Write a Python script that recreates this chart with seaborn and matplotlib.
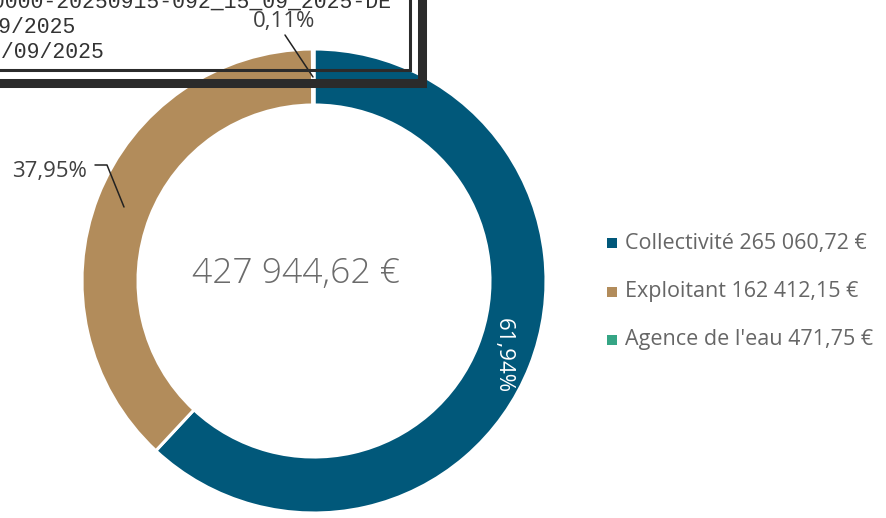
import matplotlib.pyplot as plt
import seaborn as sns

# --- DATA ---
categories = ["Collectivité", "Exploitant", "Agence de l'eau"]
amounts = [265060.72, 162412.15, 471.75]
colors = ["#01587A", "#B28C5B", "#35A585"]
stamp_lines = [
    "021-212100000-20250915-092_15_09_2025-DE",
    "Date de télétransmission : 15/09/2025",
    "Date de réception préfecture : 15/09/2025",
]

W, H = 887, 518


def fr(v, dec=2):
    # format "265 060,72"
    return f"{v:,.{dec}f}".replace(",", " ").replace(".", ",")


def py(y):
    # pixel row (from top) -> data y
    return H - y


sns.set_theme(style="white")
plt.rcParams['font.family'] = ['Open Sans', 'DejaVu Sans']

fig = plt.figure(figsize=(W / 100, H / 100), dpi=100)
ax = fig.add_axes([0, 0, 1, 1])

total = sum(amounts)
cx, cy, r = 314, 281, 232
wedges, _ = ax.pie(amounts, colors=colors, startangle=90, counterclock=False,
                   center=(cx, py(cy)), radius=r,
                   wedgeprops=dict(width=56, edgecolor='white', linewidth=2.2))
ax.set_xlim(0, W)
ax.set_ylim(0, H)
ax.set_aspect('equal')
ax.axis('off')

# centre total
ax.text(296, py(283), f"{fr(total)} €", ha='center', va='baseline',
        fontsize=25.5, color='#6b6b6b', fontweight='light')

# percentage labels
pct = [a / total * 100 for a in amounts]
ax.text(503, py(356), f"{fr(pct[0])}%", ha='center', va='center', rotation=270,
        fontsize=16, color='white')
ax.text(87, py(177), f"{fr(pct[1])}%", ha='right', va='baseline',
        fontsize=16, color='#404040')
ax.plot([95, 107, 124], [py(165), py(165), py(207)], color='#222222', lw=1.1)
ax.text(284, py(27), f"{fr(pct[2])}%", ha='center', va='baseline',
        fontsize=16, color='#404040')
ax.plot([285, 313], [py(35), py(77)], color='#222222', lw=1.1)

# legend
for i, (cat, amt, col) in enumerate(zip(categories, amounts, colors)):
    yy = py(243 + i * 48.5)
    ax.scatter([612], [yy], marker='s', s=55, color=col, linewidths=0)
    ax.text(625, yy, f"{cat} {fr(amt)} €", ha='left', va='center',
            fontsize=15.5, color='#666666')

# transmission stamp overlay
stamp_ends = [392, 75, 104]
for i, (line, xe) in enumerate(zip(stamp_lines, stamp_ends)):
    ax.text(xe, py(8 + i * 25), line, ha='right', va='baseline',
            fontsize=15.5, color='#333333', family='Liberation Mono')
ax.plot([-5, 410, 410], [py(70), py(70), py(-5)], color='#2b2b2b', lw=2.2,
        solid_joinstyle='miter')
ax.plot([-5, 422.5, 422.5], [py(82.5), py(82.5), py(-5)], color='#2b2b2b', lw=6.5,
        solid_joinstyle='miter')

fig.savefig("out.png", dpi=100)
